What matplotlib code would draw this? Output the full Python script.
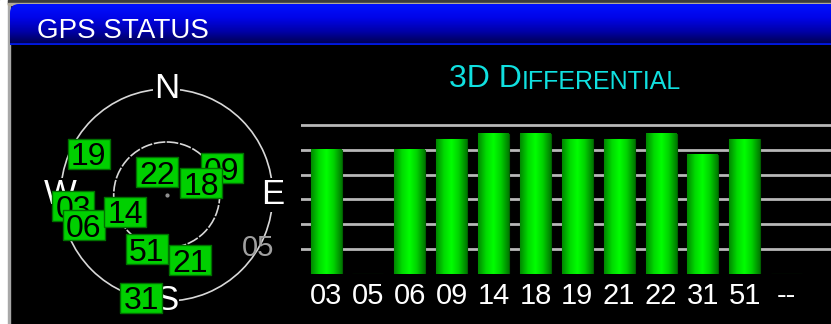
import numpy as np
import matplotlib
matplotlib.use("Agg")
import matplotlib.pyplot as plt
from matplotlib.colors import LinearSegmentedColormap
from matplotlib.patches import Rectangle, FancyBboxPatch

plt.rcParams['font.family'] = ['Liberation Sans', 'DejaVu Sans']

# signal strength bars
prn_labels = ['03', '05', '06', '09', '14', '18', '19', '21', '22', '31', '51', '--']
signal = [5.0, 0, 5.0, 5.43, 5.65, 5.65, 5.43, 5.43, 5.65, 4.8, 5.43, 0]

# sky plot (drawing order matters, later ones sit on top)
sat_ids = ['19', '22', '09', '18', '03', '06', '14', '51', '21', '31']
sat_az = [298, 337, 64, 71, 263, 250, 248, 200, 160, 194]
sat_el = [15, 69, 38, 59, 10, 15, 52, 41, 31, 0]
# satellite not tracked (shown grey, no box)
idle_ids = ['05']
idle_az = [120]
idle_el = [0]

cardinals = ['N', 'E', 'S', 'W']
cardinal_az = [0, 90, 180, 270]

W, H = 831, 324
fig = plt.figure(figsize=(W / 100, H / 100), dpi=100, facecolor='black')

# frame bits
fig.add_artist(Rectangle((0, 0), 8 / W, 1, transform=fig.transFigure, color='white', zorder=0))
fig.add_artist(Rectangle((8 / W, 0), 2 / W, 1, transform=fig.transFigure, color='#a8a8a8', zorder=0))
fig.add_artist(Rectangle((8 / W, 1 - 4 / H), 1, 4 / H, transform=fig.transFigure, color='#3c3c3c', zorder=0))
fig.add_artist(Rectangle((8 / W, 1 - 4.5 / H), 1, 1 / H, transform=fig.transFigure, color='#b0a898', zorder=0))

# title bar
axt = fig.add_axes([10 / W, 1 - 45 / H, (W - 10) / W, 41 / H])
axt.set_axis_off()
blue = LinearSegmentedColormap.from_list('blue', ['#00004a', '#0000a8', '#0004e8', '#0010ff'])
grad = np.linspace(0, 1, 64).reshape(-1, 1)
im = axt.imshow(grad, cmap=blue, origin='lower', extent=[0, W - 10, 0, 41], aspect='auto')
clip = FancyBboxPatch((0, -20), W + 20, 61, boxstyle='round,pad=0,rounding_size=9',
                      transform=axt.transData, visible=False)
axt.add_patch(clip)
im.set_clip_path(clip)
axt.axhline(1, color='#0018e0', lw=2)
axt.set_xlim(0, W - 10)
axt.set_ylim(0, 41)
fig.text(37 / W, 1 - 38 / H, 'GPS STATUS', color='white', fontsize=20, va='baseline')

# bar chart
ax = fig.add_axes([301 / W, 50 / H, (W - 301) / W, 154 / H])
ax.set_facecolor('black')
x = np.arange(len(prn_labels))
bars = ax.bar(x, signal, width=0.74, color='#00d000', edgecolor='#006000', lw=0.8, zorder=2)
green = LinearSegmentedColormap.from_list('green', ['#008800', '#00d800', '#00ff00', '#00d000', '#007a00'])
hgrad = np.linspace(0, 1, 64).reshape(1, -1)
for b in bars:
    if b.get_height() > 0:
        ax.imshow(hgrad, cmap=green, extent=[b.get_x(), b.get_x() + b.get_width(), 0, b.get_height()],
                  aspect='auto', zorder=3)
ax.set_xlim(-0.6, 12.06)
ax.set_ylim(0, 6.2)
ax.set_yticks([1, 2, 3, 4, 5, 6])
ax.yaxis.grid(True, color='#b8b8b8', lw=2, zorder=1)
ax.tick_params(axis='y', length=0, labelleft=False)
ax.set_xticks(x, prn_labels)
ax.tick_params(axis='x', length=0, colors='white', labelsize=21, pad=6)
for s in ax.spines.values():
    s.set_visible(False)

t1 = ax.annotate('3D D', xy=(449 / W, 1 - 87 / H), xycoords='figure fraction', color='#10e0e0',
                 fontsize=23, va='baseline', ha='left', annotation_clip=False)
ax.annotate('IFFERENTIAL', xy=(1, 0), xycoords=t1, color='#10e0e0', fontsize=18,
            va='bottom', ha='left', annotation_clip=False)

# sky plot
R = 106
axp = fig.add_axes([(166.7 - R) / W, (H - 195 - R) / H, 2 * R / W, 2 * R / H], projection='polar')
axp.set_facecolor('none')
axp.set_theta_zero_location('N')
axp.set_theta_direction(-1)
axp.set_rlim(0, 90)
axp.set_rgrids([45], labels=[''])
axp.set_thetagrids([], labels=[])
axp.grid(True, color='#d8d8d8', lw=1.2, linestyle=(0, (7, 1)))
axp.spines['polar'].set_color('#d8d8d8')
axp.spines['polar'].set_linewidth(1.2)
axp.spines['polar'].set_linestyle((0, (7, 1)))
axp.plot(0, 0, marker='o', ms=2, color='#909090')

for lab, az in zip(cardinals, cardinal_az):
    axp.text(np.deg2rad(az), 90, lab, color='white', fontsize=25, ha='center', va='center',
             bbox=dict(boxstyle='square,pad=0.02', fc='black', ec='none'), zorder=4, clip_on=False)

for lab, az, el in zip(idle_ids, idle_az, idle_el):
    axp.text(np.deg2rad(az), 90 - el, lab, color='#a0a0a0', fontsize=21, ha='center', va='center',
             zorder=4, clip_on=False)

box = [(-21, -15), (21, -15), (21, 15), (-21, 15), (-21, -15)]
for i, (lab, az, el) in enumerate(zip(sat_ids, sat_az, sat_el)):
    th = np.deg2rad(az)
    axp.plot(th, 90 - el, marker=box, ms=42 * 0.72, mfc='#00d000', mec='#007000', mew=1,
             zorder=10 + 2 * i, clip_on=False)
    axp.text(th, 90 - el, lab, color='black', fontsize=23, ha='center', va='center_baseline',
             zorder=11 + 2 * i, clip_on=False)

fig.savefig('out.png', dpi=100, facecolor='black')
